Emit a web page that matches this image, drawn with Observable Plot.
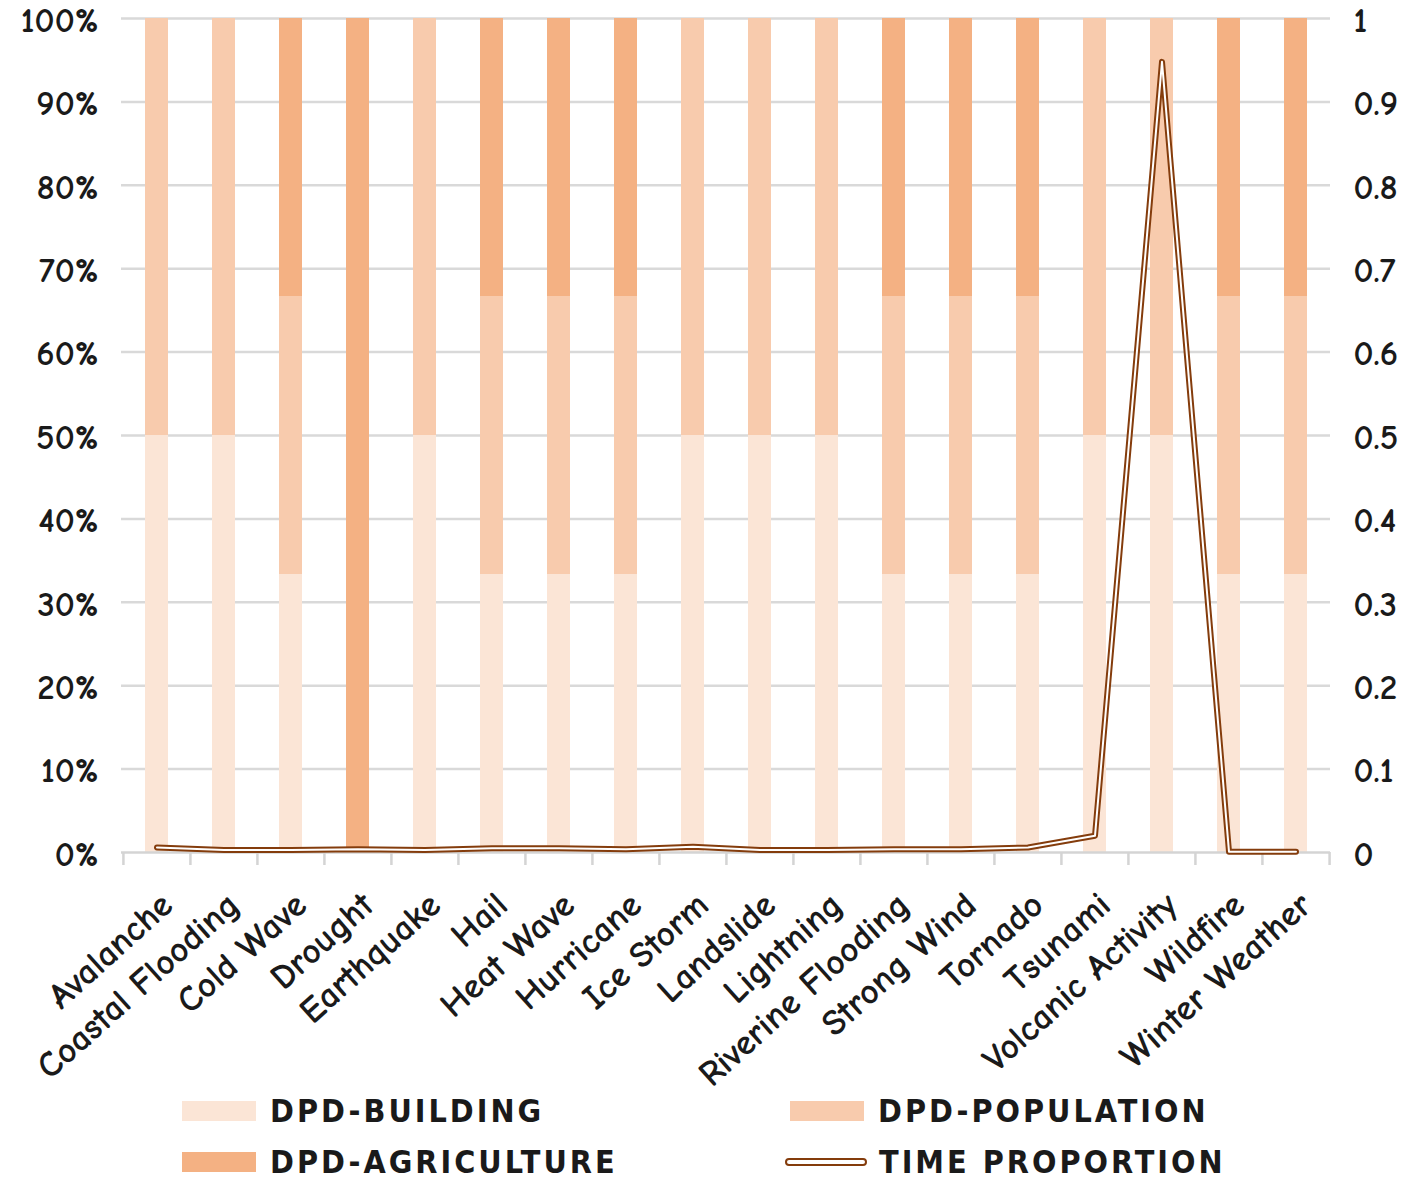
<!DOCTYPE html>
<html><head><meta charset="utf-8">
<script src="https://cdn.jsdelivr.net/npm/d3@7"></script>
<script src="https://cdn.jsdelivr.net/npm/@observablehq/plot@0.6"></script>
<style>
body{margin:0;background:#fff;}
#wrap{position:relative;width:1416px;height:1181px;overflow:hidden;}
#chart{position:absolute;left:0;top:0;}
.leg{position:absolute;display:flex;align-items:center;font-family:"DejaVu Sans Condensed","DejaVu Sans",sans-serif;font-weight:bold;font-size:32px;letter-spacing:3px;line-height:36px;color:#1a1a1a;height:36px;}
.sw{width:74px;height:20px;margin-right:14px;}
.lsw{width:82px;height:8px;box-sizing:border-box;border:2.5px solid #843c0c;border-radius:4px;background:#fff;margin-right:12px;}
</style></head><body>
<div id="wrap"><div id="chart"></div></div>
<script>
const categories = ["Avalanche","Coastal Flooding","Cold Wave","Drought","Earthquake","Hail","Heat Wave","Hurricane","Ice Storm","Landslide","Lightning","Riverine Flooding","Strong Wind","Tornado","Tsunami","Volcanic Activity","Wildfire","Winter Weather"];
const seriesNames = ["DPD-BUILDING","DPD-POPULATION","DPD-AGRICULTURE"];
const seriesColors = ["#fbe5d6","#f8cbad","#f4b183"];
const building    = [0.5,0.5,1/3,0,0.5,1/3,1/3,1/3,0.5,0.5,0.5,1/3,1/3,1/3,0.5,0.5,1/3,1/3];
const population  = [0.5,0.5,1/3,0,0.5,1/3,1/3,1/3,0.5,0.5,0.5,1/3,1/3,1/3,0.5,0.5,1/3,1/3];
const agriculture = [0,0,1/3,1,0,1/3,1/3,1/3,0,0,0,1/3,1/3,1/3,0,0,1/3,1/3];
const timeProportion = [0.006,0.003,0.003,0.004,0.003,0.005,0.005,0.004,0.007,0.003,0.003,0.004,0.004,0.006,0.02,0.948,0.001,0.001];
const gridTicks = [0,0.1,0.2,0.3,0.4,0.5,0.6,0.7,0.8,0.9,1];
const lineName = "TIME PROPORTION";

const seriesValues = [building, population, agriculture];
const rows = [];
seriesNames.forEach((s, si) => categories.forEach((c, i) => rows.push({category: c, series: s, value: seriesValues[si][i]})));
const timeRows = categories.map((c, i) => ({category: c, value: timeProportion[i]}));

const W = 1416, H = 1085, ml = 121, mr = 86, mt = 18, mb = H - 852;
const step = (W - ml - mr) / categories.length;
const tickLen = 13 / (H - mt - mb);
const font = `"Comic Sans MS","Comic Neue","DejaVu Sans",sans-serif`;

const chart = Plot.plot({
  width: W, height: H, marginLeft: ml, marginRight: mr, marginTop: mt, marginBottom: mb,
  style: {fontFamily: font, fontSize: "26px", background: "#fff", color: "#1a1a1a", overflow: "visible"},
  x: {domain: categories, paddingInner: 0.66, paddingOuter: 0.33, axis: null},
  y: {domain: [0, 1], axis: null},
  color: {domain: seriesNames, range: seriesColors},
  marks: [
    Plot.ruleY(gridTicks.slice(1), {stroke: "#d9d9d9", strokeWidth: 2.5}),
    Plot.barY(rows, {x: "category", y: "value", fill: "series"}),
    Plot.ruleY([0], {stroke: "#d4d4d4", strokeWidth: 2.5}),
    Plot.ruleX(categories, {x: d => d, y1: 0, y2: -tickLen, dx: -step / 2, stroke: "#d4d4d4", strokeWidth: 2.5}),
    Plot.ruleX(categories.slice(-1), {x: d => d, y1: 0, y2: -tickLen, dx: step / 2, stroke: "#d4d4d4", strokeWidth: 2.5}),
    Plot.line(timeRows, {x: "category", y: "value", stroke: "#843c0c", strokeWidth: 6, strokeLinejoin: "round", strokeLinecap: "round"}),
    Plot.line(timeRows, {x: "category", y: "value", stroke: "#ffffff", strokeWidth: 2, strokeLinejoin: "round", strokeLinecap: "round"}),
    Plot.axisY(gridTicks, {anchor: "left", label: null, tickSize: 0, tickPadding: 23, dy: 2, tickFormat: d => Math.round(d * 100) + "%", fontSize: 35, fontWeight: "bold", letterSpacing: 3.5, fill: "#1a1a1a"}),
    Plot.axisY(gridTicks, {anchor: "right", label: null, tickSize: 0, tickPadding: 23, dy: 2, tickFormat: d => (d === 0 || d === 1) ? String(d) : d3.format(".1f")(d), fontSize: 35, fontWeight: "bold", letterSpacing: 6, fill: "#1a1a1a"}),
    Plot.axisX({anchor: "bottom", label: null, tickSize: 0, tickPadding: 47, tickRotate: -42, dx: 10, fontSize: 36, fontWeight: "bold", letterSpacing: 1.5, fill: "#1a1a1a"})
  ]
});
document.getElementById("chart").appendChild(chart);

// legend
const wrap = document.getElementById("wrap");
const legendItems = [
  {name: seriesNames[0], color: seriesColors[0], left: 182, top: 1093, type: "bar"},
  {name: seriesNames[1], color: seriesColors[1], left: 790, top: 1093, type: "bar"},
  {name: seriesNames[2], color: seriesColors[2], left: 182, top: 1144, type: "bar"},
  {name: lineName, color: "#843c0c", left: 785, top: 1144, type: "line"}
];
legendItems.forEach(it => {
  const d = document.createElement("div");
  d.className = "leg";
  d.style.left = it.left + "px";
  d.style.top = it.top + "px";
  const sw = document.createElement("span");
  if (it.type === "bar") { sw.className = "sw"; sw.style.background = it.color; }
  else { sw.className = "lsw"; }
  d.appendChild(sw);
  const t = document.createElement("span");
  t.textContent = it.name;
  d.appendChild(t);
  wrap.appendChild(d);
});
</script>
</body></html>
